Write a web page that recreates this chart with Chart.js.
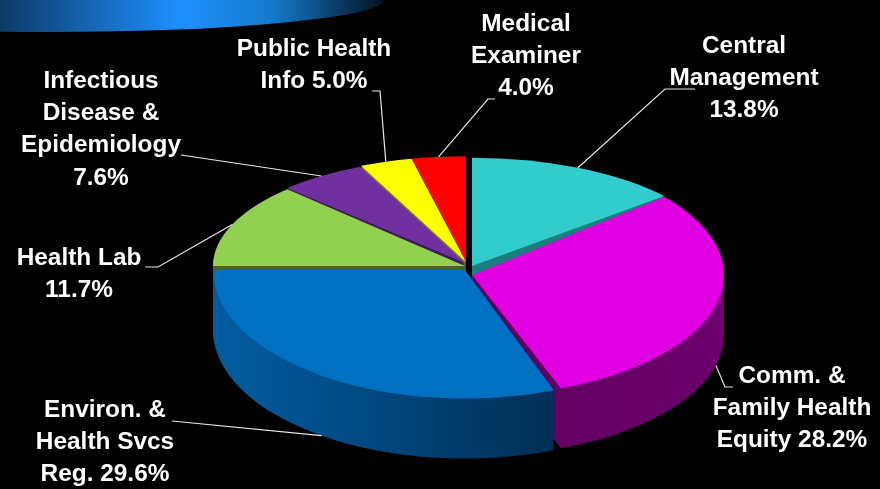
<!DOCTYPE html>
<html>
<head>
<meta charset="utf-8">
<script src="https://cdn.jsdelivr.net/npm/chart.js@4"></script>
<style>
  html, body { margin: 0; background: #000; overflow: hidden; }
  #banner {
    position: absolute; left: -285px; top: -34px; width: 670px; height: 66px; border-radius: 50%;
    background: linear-gradient(90deg, #000 0, #0d3a66 285px, #1e90ff 465px, #1478c8 560px, #03101f 670px);
  }
  #pie { position: absolute; left: 0; top: 0; }
</style>
</head>
<body>
<div id="banner"></div>
<canvas id="pie" width="880" height="489"></canvas>
<script>
const categories = ['Central Management', 'Comm. & Family Health Equity', 'Environ. & Health Svcs Reg.', 'Health Lab',
    'Infectious Disease & Epidemiology', 'Public Health Info', 'Medical Examiner'];
const shares = [13.8, 28.2, 29.6, 11.7, 7.6, 5.0, 4.0];
const topColors = ['#33cccc', '#e100e1', '#0070c0', '#92d050', '#7030a0', '#ffff00', '#ff0000'];
const wallColors = [['#1b7f7f', '#1b7f7f'], ['#560056', '#6e006e'], ['#005a9e', '#002c50'], ['#46661f', '#46661f'],
    ['#3c1a58', '#3c1a58'], ['#808000', '#808000'], ['#800000', '#800000']];

const labelLines = [
    ['Central', 'Management', '13.8%'],
    ['Comm. &', 'Family Health', 'Equity 28.2%'],
    ['Environ. &', 'Health Svcs', 'Reg. 29.6%'],
    ['Health Lab', '11.7%'],
    ['Infectious', 'Disease &', 'Epidemiology', '7.6%'],
    ['Public Health', 'Info 5.0%'],
    ['Medical', 'Examiner', '4.0%']
];

// where each label sits and where its leader line leaves the text
const labelSpots = [[744, 46], [792, 376], [105, 410], [79, 258], [101, 81], [314, 49], [526, 24]];
const leaderStarts = [[[695, 89], [665, 89]], [[733, 387], [725, 387]], [[172, 421]], [[145, 267], [158, 267]],
    [[181, 155]], [[372, 91], [380, 91]], [[495, 99], [488, 99]]];

// the original is a tilted 3D pie, so every slice gets its own apex and squash
const apexes = [[472, 266], [472, 275], [465, 270], [465, 266], [465, 263], [466, 262], [466, 262]];
const squash = [0.43, 0.48, 0.51, 0.43, 0.42, 0.42, 0.42];
const hasFrontWall = [false, true, true, false, false, false, false];
const drawOrder = [0, 6, 5, 4, 3, 1, 2];
const depth = 60;
const radius = 252;

// perspective pushes the slice edges round the rim: degrees from the top, shift in degrees
const rimStops = [0, 50, 151, 258, 300, 327, 345, 360];
const rimShift = [0, 0, 8, 12, 15, 8, 2, 0];

function warp(angle) {
    const deg = (angle + Math.PI / 2) * 180 / Math.PI;
    let n = 0;
    while (n < rimStops.length - 2 && deg > rimStops[n + 1]) n++;
    const f = (deg - rimStops[n]) / (rimStops[n + 1] - rimStops[n]);
    return angle + (rimShift[n] + f * (rimShift[n + 1] - rimShift[n])) * Math.PI / 180;
}

function placeSlice(ctx, el, i, drop) {
    ctx.translate(apexes[i][0], apexes[i][1] + drop);
    ctx.scale(1, squash[i]);
    ctx.translate(-el.x, -el.y);
}

const pie3d = {
    id: 'pie3d',
    afterDatasetsUpdate(chart) {
        chart.getDatasetMeta(0).data.forEach(el => {
            el.startAngle = warp(el.startAngle);
            el.endAngle = warp(el.endAngle);
            el.circumference = el.endAngle - el.startAngle;
        });
    },
    beforeDatasetsDraw(chart) {
        const ctx = chart.ctx;
        const arcs = chart.getDatasetMeta(0).data;
        drawOrder.forEach(i => {
            const el = arcs[i];
            const opts = el.options;
            const wall = ctx.createLinearGradient(apexes[i][0] - radius + (i === 1 ? 90 : 0), 0, i === 2 ? 551 : apexes[i][0] + radius, 0);
            wall.addColorStop(0, wallColors[i][0]);
            wall.addColorStop(1, wallColors[i][1]);
            el.options = Object.assign(Object.create(opts), { backgroundColor: wall });
            for (let d = depth; d > 0; d--) {
                ctx.save();
                placeSlice(ctx, el, i, d);
                el.draw(ctx);
                ctx.restore();
            }
            el.options = opts;
            ctx.save();
            placeSlice(ctx, el, i, 0);
            el.draw(ctx);
            ctx.restore();
        });
        return false;
    },
    // returning false above skips afterDatasetsDraw, so labels go here
    afterDraw(chart) {
        const ctx = chart.ctx;
        const arcs = chart.getDatasetMeta(0).data;
        ctx.save();
        ctx.strokeStyle = '#e8e8e8';
        ctx.lineWidth = 1.2;
        arcs.forEach((el, i) => {
            const mid = (el.startAngle + el.endAngle) / 2;
            const x = apexes[i][0] + radius * Math.cos(mid);
            const y = apexes[i][1] + radius * squash[i] * Math.sin(mid) + (hasFrontWall[i] ? depth : 0);
            ctx.beginPath();
            leaderStarts[i].forEach((p, n) => n ? ctx.lineTo(p[0], p[1]) : ctx.moveTo(p[0], p[1]));
            ctx.lineTo(x, y);
            ctx.stroke();
        });
        ctx.fillStyle = '#fff';
        ctx.font = 'bold 24.4px "Liberation Sans", Arial, sans-serif';
        ctx.textAlign = 'center';
        ctx.textBaseline = 'middle';
        labelLines.forEach((lines, i) => {
            lines.forEach((line, n) => ctx.fillText(line, labelSpots[i][0], labelSpots[i][1] + n * 32.3));
        });
        ctx.restore();
    }
};

new Chart(document.getElementById('pie').getContext('2d'), {
    type: 'pie',
    data: {
        labels: categories,
        datasets: [{ data: shares, backgroundColor: topColors, borderWidth: 0 }]
    },
    options: {
        responsive: false,
        animation: false,
        radius: radius,
        plugins: { legend: { display: false }, tooltip: { enabled: false } }
    },
    plugins: [pie3d]
});
</script>
</body>
</html>
